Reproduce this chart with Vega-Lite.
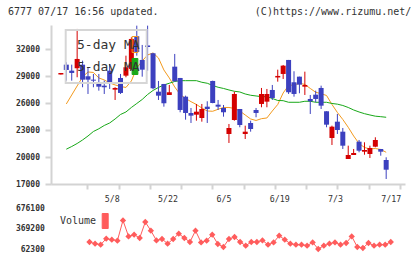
{
"$schema": "https://vega.github.io/schema/vega-lite/v6.json",
"background": "white",
"padding": {"left": 8, "top": 7, "right": 4, "bottom": 4},
"title": {"text": "6777 07/17 16:56 updated.\u00a0\u00a0\u00a0\u00a0\u00a0\u00a0\u00a0\u00a0\u00a0\u00a0\u00a0\u00a0\u00a0\u00a0\u00a0\u00a0(C)https://www.rizumu.net/", "anchor": "start", "frame": "group", "dx": -43, "offset": 8, "font": "DejaVu Sans Mono", "fontSize": 10, "fontWeight": "normal", "color": "#333333"},
"config": {"view": {"stroke": null}, "font": "DejaVu Sans Mono", "axis": {"labelOverlap": false, "labelFlush": false}},
"spacing": 24,
"bounds": "flush",
"resolve": {"scale": {"color": "independent"}, "legend": {"color": "independent"}},
"datasets": {
"px": [
{"i":0,"o":29190,"h":29360,"l":29190,"c":29360},
{"i":1,"o":30285,"h":30552,"l":28503,"c":29695,"m5":25909,"m25":20875},
{"i":2,"o":29617,"h":30285,"l":28503,"c":29361,"m5":26911,"m25":21176},
{"i":3,"o":29884,"h":34261,"l":28882,"c":30920,"m5":27913,"m25":21510},
{"i":4,"o":30285,"h":30731,"l":27769,"c":28615,"m5":28915,"m25":21900},
{"i":5,"o":28993,"h":29996,"l":27022,"c":28615,"m5":29472,"m25":22345},
{"i":6,"o":28615,"h":29250,"l":27769,"c":28503,"m5":29416,"m25":22846},
{"i":7,"o":28325,"h":29250,"l":27390,"c":27835,"m5":28804,"m25":23147},
{"i":8,"o":27947,"h":28503,"l":27022,"c":27769,"m5":28581,"m25":23515},
{"i":9,"o":29617,"h":30363,"l":27579,"c":28136,"m5":28247,"m25":23793},
{"i":10,"o":27501,"h":27769,"l":26354,"c":27691,"m5":28025,"m25":24238},
{"i":11,"o":28804,"h":29250,"l":27022,"c":27134,"m5":27858,"m25":24740},
{"i":12,"o":29060,"h":31287,"l":28882,"c":29996,"m5":27746,"m25":25018},
{"i":13,"o":29806,"h":33336,"l":29695,"c":33147,"m5":28470,"m25":25519},
{"i":14,"o":33448,"h":34628,"l":31287,"c":31700,"m5":29918,"m25":25964},
{"i":15,"o":30809,"h":32479,"l":28949,"c":29728,"m5":30697,"m25":26410},
{"i":16,"o":32420,"h":34628,"l":29617,"c":32250,"m5":31365,"m25":26967},
{"i":17,"o":31555,"h":31600,"l":27546,"c":27657,"m5":31588,"m25":27412},
{"i":18,"o":27279,"h":28470,"l":26354,"c":26833,"m5":31031,"m25":27746},
{"i":19,"o":28136,"h":28136,"l":25608,"c":25987,"m5":29695,"m25":28025},
{"i":20,"o":26911,"h":28025,"l":26911,"c":27212,"m5":28804,"m25":28214},
{"i":21,"o":30062,"h":31477,"l":28400,"c":28437,"m5":27802,"m25":28414},
{"i":22,"o":28804,"h":28804,"l":24985,"c":25241,"m5":26967,"m25":28503},
{"i":23,"o":26722,"h":26833,"l":24160,"c":24907,"m5":26521,"m25":28503},
{"i":24,"o":24907,"h":25463,"l":23793,"c":24606,"m5":26165,"m25":28503},
{"i":25,"o":24717,"h":25909,"l":24049,"c":25051,"m5":25853,"m25":28503},
{"i":26,"o":24350,"h":25909,"l":23938,"c":25352,"m5":25463,"m25":28325},
{"i":27,"o":25608,"h":26209,"l":23793,"c":25352,"m5":25129,"m25":28214},
{"i":28,"o":28470,"h":28500,"l":25990,"c":26020,"m5":25096,"m25":27969},
{"i":29,"o":25831,"h":26354,"l":25241,"c":25608,"m5":25319,"m25":27769},
{"i":30,"o":25463,"h":25797,"l":24495,"c":24985,"m5":25519,"m25":27635},
{"i":31,"o":22568,"h":23682,"l":21566,"c":23236,"m5":25519,"m25":27468},
{"i":32,"o":24127,"h":27279,"l":24049,"c":27022,"m5":25408,"m25":27323},
{"i":33,"o":25352,"h":25352,"l":23314,"c":23570,"m5":25129,"m25":27245},
{"i":34,"o":22568,"h":23492,"l":22011,"c":22824,"m5":24684,"m25":27022},
{"i":35,"o":23793,"h":24049,"l":22824,"c":23125,"m5":24238,"m25":26878},
{"i":36,"o":25241,"h":25463,"l":24428,"c":24907,"m5":24071,"m25":26800},
{"i":37,"o":25909,"h":27691,"l":25541,"c":27022,"m5":24272,"m25":26722},
{"i":38,"o":26165,"h":27579,"l":25541,"c":27022,"m5":24350,"m25":26722},
{"i":39,"o":27468,"h":28025,"l":26354,"c":26577,"m5":25129,"m25":26521},
{"i":40,"o":28860,"h":29728,"l":28392,"c":29030,"m5":25853,"m25":26299},
{"i":41,"o":29250,"h":30252,"l":28693,"c":30174,"m5":27134,"m25":26276},
{"i":42,"o":30809,"h":30809,"l":27022,"c":27212,"m5":27969,"m25":26098},
{"i":43,"o":28325,"h":29550,"l":26722,"c":27022,"m5":28025,"m25":26098},
{"i":44,"o":28949,"h":28949,"l":27100,"c":28058,"m5":28214,"m25":26098},
{"i":45,"o":27835,"h":29506,"l":26911,"c":28025,"m5":28080,"m25":26209},
{"i":46,"o":26466,"h":26911,"l":24795,"c":26209,"m5":27635,"m25":26209},
{"i":47,"o":26944,"h":27390,"l":26098,"c":26466,"m5":27212,"m25":26098},
{"i":48,"o":27691,"h":27947,"l":25352,"c":25719,"m5":27056,"m25":26098},
{"i":49,"o":25096,"h":25096,"l":23314,"c":23604,"m5":26855,"m25":26098},
{"i":50,"o":22123,"h":23492,"l":21343,"c":23381,"m5":25853,"m25":25964},
{"i":51,"o":23938,"h":24795,"l":22568,"c":23013,"m5":24962,"m25":25887},
{"i":52,"o":22824,"h":23236,"l":20898,"c":21265,"m5":24183,"m25":25742},
{"i":53,"o":19784,"h":21265,"l":19784,"c":20229,"m5":23314,"m25":25519},
{"i":54,"o":20229,"h":20898,"l":20229,"c":20452,"m5":22345,"m25":25241},
{"i":55,"o":21711,"h":21900,"l":20530,"c":20708,"m5":21510,"m25":25018},
{"i":56,"o":20597,"h":21644,"l":20263,"c":20786,"m5":21065,"m25":24829},
{"i":57,"o":20341,"h":21265,"l":19895,"c":21009,"m5":20898,"m25":24684},
{"i":58,"o":21154,"h":22200,"l":21087,"c":21900,"m5":20953,"m25":24550},
{"i":59,"o":20898,"h":20898,"l":20151,"c":20597,"m5":20842,"m25":24495},
{"i":60,"o":19673,"h":19973,"l":17557,"c":18592,"m5":20530,"m25":24428}
],
"vol": [
{"i":6,"v":167100},{"i":7,"v":141700},{"i":8,"v":126700},{"i":9,"v":216600},{"i":10,"v":201600},
{"i":11,"v":186600},{"i":12,"v":490600},{"i":13,"v":251000},{"i":14,"v":276500},{"i":15,"v":227000},
{"i":16,"v":466700},{"i":17,"v":336400},{"i":18,"v":191100},{"i":19,"v":212100},{"i":20,"v":141700},
{"i":21,"v":212100},{"i":22,"v":291400},{"i":23,"v":227000},{"i":24,"v":167100},{"i":25,"v":336400},
{"i":26,"v":161100},{"i":27,"v":186600},{"i":28,"v":276500},{"i":29,"v":137200},{"i":30,"v":92300},
{"i":31,"v":212100},{"i":32,"v":242000},{"i":33,"v":167100},{"i":34,"v":111700},{"i":35,"v":167100},
{"i":36,"v":167100},{"i":37,"v":191100},{"i":38,"v":126700},{"i":39,"v":161100},{"i":40,"v":261500},
{"i":41,"v":201600},{"i":42,"v":141700},{"i":43,"v":126700},{"i":44,"v":126700},{"i":45,"v":111700},
{"i":46,"v":161100},{"i":47,"v":62300},{"i":48,"v":111700},{"i":49,"v":141700},{"i":50,"v":161100},
{"i":51,"v":126700},{"i":52,"v":152200},{"i":53,"v":251000},{"i":54,"v":92300},{"i":55,"v":77300},
{"i":56,"v":152200},{"i":57,"v":111700},{"i":58,"v":126700},{"i":59,"v":126700},{"i":60,"v":167100}
]
},
"vconcat": [
{
"width": 354, "height": 159,
"data": {"name": "px"},
"encoding": {
  "x": {"field": "i", "type": "quantitative", "scale": {"domain": [-0.9, 62.55], "nice": false, "zero": false},
        "axis": {"values": [4.871, 10.638, 16.405, 22.172, 27.939, 33.706, 39.473, 45.24, 51.007, 56.774, 62.541], "labels": false, "ticks": true, "tickSize": 5, "tickWidth": 2, "tickColor": "#d3d3d3", "domain": true, "domainWidth": 2, "domainColor": "#d3d3d3", "grid": false, "title": null}}
},
"layer": [
  {
    "transform": [{"fold": ["m5", "m25"], "as": ["series", "ma"]}],
    "mark": {"type": "line", "strokeWidth": 1, "interpolate": "linear"},
    "encoding": {
      "y": {"field": "ma", "type": "quantitative", "scale": {"domain": [17000, 34700], "nice": false, "zero": false},
            "axis": {"values": [17000, 20000, 23000, 26000, 29000, 32000], "format": "d", "labelFont": "DejaVu Sans Mono", "labelFontSize": 8, "labelFontWeight": "bold", "labelColor": "#333333", "labelPadding": 5.5, "tickSize": 6, "tickWidth": 2, "tickColor": "#d3d3d3", "domainWidth": 2, "domainColor": "#d3d3d3", "grid": false, "title": null, "labelFlush": false, "labelOverlap": false}},
      "color": {"field": "series", "type": "nominal", "scale": {"domain": ["m5", "m25"], "range": ["#f39a1e", "#18a818"]},
        "legend": {"orient": "none", "legendX": 14.7, "legendY": 5, "title": null, "direction": "vertical",
          "labelExpr": "'5-day MA'", "labelFont": "DejaVu Sans Mono", "labelFontSize": 13, "labelColor": "#333333",
          "labelOffset": -66.5, "symbolOffset": 54.8, "symbolType": "M-0.36,-1H0.36V1H-0.36Z", "symbolSize": 256,
          "symbolStrokeWidth": 1, "strokeColor": "#d6d6d6", "padding": 6, "rowPadding": 1,
          "encode": {"legend": {"update": {"strokeWidth": {"value": 2}}},
                     "symbols": {"update": {"fill": {"signal": "datum.value === 'm25' ? '#18a818' : 'transparent'"}, "stroke": {"value": "#444444"}}}}}}
    }
  },
  {
    "mark": {"type": "rule", "strokeWidth": 1},
    "encoding": {
      "y": {"field": "l", "type": "quantitative",
            "axis": {"values": [17000, 20000, 23000, 26000, 29000, 32000], "format": "d", "labelFont": "DejaVu Sans Mono", "labelFontSize": 8, "labelFontWeight": "bold", "labelColor": "#333333", "labelPadding": 5.5, "tickSize": 6, "tickWidth": 2, "tickColor": "#d3d3d3", "domainWidth": 2, "domainColor": "#d3d3d3", "grid": false, "title": null, "labelFlush": false, "labelOverlap": false}},
      "y2": {"field": "h"},
      "color": {"condition": {"test": "datum.c >= datum.o", "value": "#d40000"}, "value": "#3c40bf"}
    }
  },
  {
    "mark": {"type": "bar", "size": 5},
    "encoding": {
      "y": {"field": "o", "type": "quantitative",
            "axis": {"values": [17000, 20000, 23000, 26000, 29000, 32000], "format": "d", "labelFont": "DejaVu Sans Mono", "labelFontSize": 8, "labelFontWeight": "bold", "labelColor": "#333333", "labelPadding": 5.5, "tickSize": 6, "tickWidth": 2, "tickColor": "#d3d3d3", "domainWidth": 2, "domainColor": "#d3d3d3", "grid": false, "title": null, "labelFlush": false, "labelOverlap": false}},
      "y2": {"field": "c"},
      "color": {"condition": {"test": "datum.c >= datum.o", "value": "#d40000"}, "value": "#3c40bf"}
    }
  }
]
},
{
"width": 354, "height": 41,
"data": {"name": "vol"},
"encoding": {
  "x": {"field": "i", "type": "quantitative", "scale": {"domain": [-0.9, 62.55], "nice": false, "zero": false},
        "axis": {"orient": "top", "values": [10, 20, 30, 40, 50, 60],
                 "labelExpr": "datum.value == 10 ? '5/8' : datum.value == 20 ? '5/22' : datum.value == 30 ? '6/5' : datum.value == 40 ? '6/19' : datum.value == 50 ? '7/3' : '7/17'",
                 "labelFont": "DejaVu Sans Mono", "labelFontSize": 8.3, "labelColor": "#333333", "labelPadding": 5,
                 "domain": false, "ticks": false, "grid": false, "title": null, "labelFlush": false, "labelOverlap": false}},
  "y": {"field": "v", "type": "quantitative", "scale": {"domain": [62300, 676100], "nice": false, "zero": false},
        "axis": {"values": [62300, 369200, 676100], "format": "d", "labelFont": "DejaVu Sans Mono", "labelFontSize": 8, "labelFontWeight": "bold", "labelColor": "#333333", "labelPadding": 6.7, "domain": false, "ticks": false, "grid": false, "title": null, "labelFlush": false, "labelOverlap": false}},
  "color": {"datum": "Volume", "type": "nominal", "scale": {"domain": ["Volume"], "range": ["#ff5c5c"]},
    "legend": {"orient": "none", "legendX": 0, "legendY": 5, "title": null, "padding": 0,
      "labelFont": "DejaVu Sans Mono", "labelFontSize": 10, "labelColor": "#333333",
      "labelOffset": -53.2, "symbolOffset": 46.2, "symbolType": "M-0.4,-1H0.4V1H-0.4Z", "symbolSize": 225,
      "encode": {"symbols": {"update": {"fill": {"value": "#ff5c5c"}, "stroke": {"value": "#444444"}, "strokeWidth": {"value": 1}}}}}}
},
"layer": [
  {"mark": {"type": "line", "strokeWidth": 1}},
  {"mark": {"type": "point", "shape": "diamond", "filled": true, "size": 40, "opacity": 1}}
]
}
]
}
